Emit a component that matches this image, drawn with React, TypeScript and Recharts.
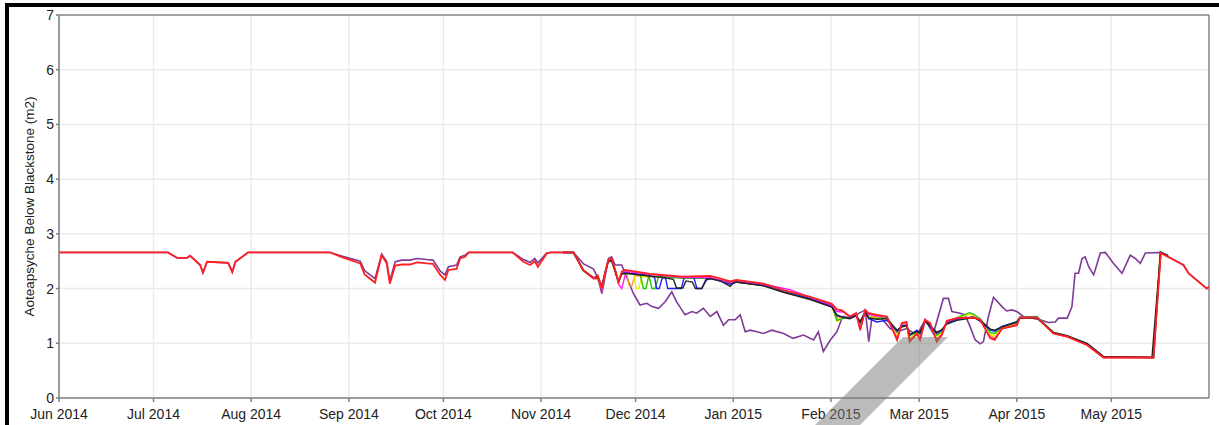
import React from 'react';
import { LineChart, Line, XAxis, YAxis, CartesianGrid, ReferenceLine } from 'recharts';

// x = days since 1 Jun 2014
const monthTicks = [0, 30, 61, 92, 122, 153, 183, 214, 245, 273, 304, 334];
const monthLabels = [
  'Jun 2014', 'Jul 2014', 'Aug 2014', 'Sep 2014', 'Oct 2014', 'Nov 2014',
  'Dec 2014', 'Jan 2015', 'Feb 2015', 'Mar 2015', 'Apr 2015', 'May 2015',
];
const yTicks = [0, 1, 2, 3, 4, 5, 6, 7];
const yMinorTicks = [0.5, 1.5, 2.5, 3.5, 4.5, 5.5, 6.5];

type Pt = [number, number];

const redSeries: Pt[] = [
  [0, 2.66], [34.6, 2.66], [37.5, 2.56], [40.6, 2.56], [41.6, 2.6], [44.8, 2.43], [45.7, 2.29], [47, 2.49],
  [53.7, 2.47], [55, 2.3], [56, 2.49], [60, 2.66], [86, 2.66], [90, 2.57], [95.6, 2.46], [97, 2.26],
  [100.3, 2.11], [102.4, 2.61], [104, 2.46], [105, 2.09], [106.7, 2.42], [108.8, 2.44], [111.4, 2.44],
  [113.6, 2.48], [116.7, 2.46], [118.7, 2.45], [121, 2.25], [122.5, 2.16], [123.6, 2.34], [126.2, 2.36],
  [127.3, 2.55], [128.9, 2.58], [130, 2.66], [144, 2.66], [147.4, 2.49], [149.5, 2.43], [151, 2.5],
  [152, 2.4], [154.8, 2.64], [156, 2.66], [163.3, 2.66], [166.4, 2.34], [169.6, 2.19], [171, 2.24],
  [172.3, 2.0], [173.3, 2.28], [174.3, 2.52], [175.4, 2.55], [176.5, 2.35], [177.6, 2.12], [178.6, 2.31],
  [179.7, 2.34], [187.6, 2.27], [198, 2.22], [206.7, 2.23], [210, 2.18], [213, 2.13], [215, 2.16],
  [223.6, 2.09], [230, 1.97], [238.4, 1.85], [245.3, 1.72], [246.9, 1.62], [248.5, 1.6], [251, 1.49],
  [253, 1.55], [254.3, 1.24], [255.9, 1.61], [257, 1.55], [259.6, 1.52], [262.8, 1.49], [266, 1.06],
  [267.5, 1.37], [269, 1.39], [270, 1.03], [272.3, 1.18], [273.3, 1.06], [274.9, 1.43], [276.5, 1.37],
  [278.6, 1.03], [280.2, 1.15], [281.8, 1.41], [285, 1.46], [290.3, 1.47], [292.4, 1.43], [295.6, 1.09],
  [297, 1.06], [299.3, 1.27], [304, 1.33], [305, 1.47], [310.4, 1.47], [315.6, 1.18], [320, 1.12],
  [326.3, 0.97], [331.5, 0.74], [347.4, 0.74], [349.7, 2.65], [356.9, 2.43], [358.5, 2.28], [364.3, 2.0],
  [365, 2.03],
];

const purpleSeries: Pt[] = [
  [0, 2.66], [34.6, 2.66], [37.5, 2.56], [40.6, 2.56], [41.6, 2.6], [44.8, 2.43], [45.7, 2.29], [47, 2.49],
  [53.7, 2.47], [55, 2.3], [56, 2.49], [60, 2.66], [86, 2.66], [90, 2.59], [95.6, 2.5], [97, 2.33],
  [100.3, 2.18], [102.4, 2.63], [104, 2.5], [105, 2.14], [106.7, 2.49], [108.8, 2.52], [111.4, 2.52],
  [113.6, 2.55], [116.7, 2.53], [118.7, 2.52], [121, 2.32], [122.5, 2.25], [123.6, 2.4], [126.2, 2.43],
  [127.3, 2.58], [128.9, 2.61], [130, 2.66], [144, 2.66], [147.4, 2.53], [149.5, 2.48], [151, 2.55],
  [152, 2.47], [154.8, 2.65], [156, 2.66], [163.3, 2.66], [166.5, 2.45], [169.6, 2.36], [171, 2.2],
  [172.3, 1.91], [174.4, 2.55], [175.4, 2.58], [176.5, 2.43], [178.6, 2.43], [182.3, 1.91], [184.4, 1.7],
  [186.6, 1.73], [188.2, 1.67], [190.3, 1.64], [192.4, 1.76], [194.5, 1.94], [196, 1.76], [198.7, 1.52],
  [200.9, 1.58], [202.4, 1.55], [204.5, 1.64], [206.7, 1.49], [208.8, 1.58], [210.9, 1.33], [212.5, 1.43],
  [214.6, 1.43], [216.2, 1.52], [217.8, 1.21], [219.4, 1.24], [221.5, 1.21], [223.6, 1.18], [226.2, 1.24],
  [230, 1.18], [233, 1.09], [236.3, 1.15], [239.5, 1.06], [241, 1.21], [242.6, 0.85], [244.8, 1.06],
  [246.9, 1.21], [248.5, 1.46], [251, 1.49], [253, 1.52], [255.9, 1.61], [257, 1.03], [258, 1.46],
  [260.6, 1.49], [263.8, 1.27], [266, 1.21], [269, 1.27], [272.3, 1.15], [274.9, 1.43], [277.5, 1.18],
  [280.7, 1.82], [282.3, 1.82], [283.4, 1.58], [286, 1.55], [287.6, 1.52], [289.2, 1.3], [290.8, 1.06],
  [292.4, 0.99], [293.4, 1.03], [295, 1.49], [296.6, 1.84], [299.3, 1.67], [300.8, 1.59], [302.4, 1.61],
  [304, 1.58], [306.1, 1.49], [311.4, 1.43], [314, 1.38], [316.2, 1.39], [317.2, 1.46], [320, 1.46],
  [321.5, 1.67], [322.5, 2.28], [323.6, 2.28], [324.7, 2.55], [325.7, 2.58], [326.8, 2.4], [328.4, 2.25],
  [330.5, 2.65], [332.1, 2.66], [334.7, 2.46], [337.4, 2.28], [340, 2.61], [341.6, 2.55], [343.2, 2.46],
  [344.8, 2.65], [349.5, 2.66], [356.9, 2.43], [358.5, 2.28], [364.3, 2.0], [365, 2.03],
];

const blackSeries: Pt[] = [
  [160, 2.66], [163.3, 2.66], [166.4, 2.33], [169.6, 2.2], [171, 2.2], [172.3, 2.05], [173.3, 2.28],
  [174.3, 2.5], [175.4, 2.52], [176.5, 2.32], [177.6, 2.12], [178.6, 2.27], [180, 2.28], [186, 2.24],
  [192, 2.2], [195, 2.17], [196, 2.01], [198, 2.01], [199, 2.14], [201, 2.12], [202, 2.0], [204, 2.0],
  [205.5, 2.16], [206.7, 2.18], [210, 2.14], [213, 2.04], [214, 2.1], [215, 2.12], [223.6, 2.05],
  [230, 1.93], [238.4, 1.8], [245.3, 1.66], [246.9, 1.52], [249, 1.47], [251, 1.45], [253, 1.5],
  [254.3, 1.4], [255.9, 1.57], [257, 1.46], [259.6, 1.44], [262.8, 1.45], [266, 1.24], [267.5, 1.3],
  [269, 1.32], [270, 1.16], [272.3, 1.22], [273.3, 1.2], [274.9, 1.4], [276.5, 1.32], [278.6, 1.2],
  [280.2, 1.25], [281.8, 1.35], [285, 1.42], [290.3, 1.47], [292.4, 1.42], [295.6, 1.26], [297, 1.24],
  [299.3, 1.3], [304, 1.38], [305, 1.46], [310.4, 1.46], [315.6, 1.2], [320, 1.14], [326.3, 1.0],
  [331.5, 0.76], [346.9, 0.74], [349.6, 2.66], [352, 2.6],
];

const blueSeries: Pt[] = [
  [160, 2.66], [163.3, 2.66], [166.4, 2.34], [169.6, 2.19], [171, 2.22], [172.3, 2.02], [173.3, 2.28],
  [174.3, 2.5], [175.4, 2.52], [176.5, 2.33], [177.6, 2.12], [178.6, 2.28], [180, 2.29], [186, 2.25],
  [189, 2.21], [189.7, 2.0], [190.5, 2.0], [191.5, 2.2], [192.5, 2.19], [193.2, 2.0], [197.5, 2.0],
  [198.5, 2.22], [201.5, 2.2], [202.5, 2.0], [204, 2.0], [205.5, 2.19], [206.7, 2.19], [213, 2.08],
  [215, 2.12], [223.6, 2.06], [230, 1.94], [238.4, 1.82], [245.3, 1.68], [246.9, 1.5], [249, 1.48],
  [251, 1.46], [253, 1.52], [254.3, 1.38], [255.9, 1.58], [257, 1.45], [259.6, 1.39], [262.8, 1.42],
  [266, 1.22], [267.5, 1.32], [269, 1.33], [270, 1.15], [272.3, 1.24], [273.3, 1.18], [274.9, 1.42],
  [276.5, 1.3], [278.6, 1.18], [280.2, 1.24], [281.8, 1.37], [285, 1.44], [290.3, 1.48], [292.4, 1.4],
  [295.6, 1.24], [297, 1.22], [299.3, 1.31], [304, 1.39], [305, 1.47], [310.4, 1.47], [315.6, 1.19],
  [320, 1.13], [326.3, 0.98], [331.5, 0.75], [347.2, 0.74], [349.7, 2.66], [352, 2.6],
];

const greenSeries: Pt[] = [
  [160, 2.66], [163.3, 2.66], [166.4, 2.33], [169.6, 2.2], [171, 2.2], [172.3, 2.06], [173.3, 2.29],
  [174.3, 2.5], [175.4, 2.5], [176.5, 2.32], [177.6, 2.14], [178.6, 2.27], [180, 2.28], [184.5, 2.25],
  [185.5, 2.0], [186.3, 2.0], [187.2, 2.24], [188.2, 2.0], [189.2, 2.0], [190.3, 2.22], [198, 2.19],
  [206.7, 2.19], [213, 2.1], [215, 2.12], [223.6, 2.06], [230, 1.95], [238.4, 1.83], [245.3, 1.69],
  [246.9, 1.42], [249, 1.46], [251, 1.47], [253, 1.53], [254.3, 1.36], [255.9, 1.6], [257, 1.47],
  [259.6, 1.45], [262.8, 1.47], [266, 1.2], [267.5, 1.31], [269, 1.33], [270, 1.14], [272.3, 1.2],
  [273.3, 1.16], [274.9, 1.43], [276.5, 1.33], [278.6, 1.15], [280.2, 1.22], [281.8, 1.38], [285, 1.47],
  [289, 1.56], [290.3, 1.53], [292.4, 1.45], [295.6, 1.2], [297, 1.18], [299.3, 1.3], [304, 1.4],
  [305, 1.48], [310.4, 1.49], [315.6, 1.2], [320, 1.13], [326.3, 0.98], [331.5, 0.75], [347.5, 0.74],
  [349.5, 2.68], [352, 2.6],
];

const yellowSeries: Pt[] = [
  [160, 2.66], [163.3, 2.66], [166.4, 2.33], [169.6, 2.2], [171, 2.18], [172.3, 2.04], [173.3, 2.28],
  [174.3, 2.5], [175.4, 2.5], [176.5, 2.32], [177.6, 2.13], [178.6, 2.27], [180, 2.3], [182.4, 2.27],
  [183.2, 2.0], [184, 2.0], [185, 2.22], [198, 2.2], [206.7, 2.2], [213, 2.1], [215, 2.13], [223.6, 2.06],
  [230, 1.94], [238.4, 1.82], [245.3, 1.67], [246.9, 1.4], [249, 1.47], [251, 1.46], [253, 1.52],
  [254.3, 1.35], [255.9, 1.6], [257, 1.47], [259.6, 1.46], [262.8, 1.46], [266, 1.15], [267.5, 1.3],
  [269, 1.32], [270, 1.1], [272.3, 1.18], [273.3, 1.12], [274.9, 1.42], [276.5, 1.33], [278.6, 1.12],
  [280.2, 1.2], [281.8, 1.38], [285, 1.46], [289, 1.53], [290.3, 1.5], [292.4, 1.42], [295.6, 1.16],
  [297, 1.14], [299.3, 1.28], [304, 1.38], [305, 1.47], [310.4, 1.48], [315.6, 1.19], [320, 1.13],
  [326.3, 0.98], [331.5, 0.75], [347.3, 0.74], [349.6, 2.66], [352, 2.6],
];

const orangeSeries: Pt[] = [
  [160, 2.66], [163.3, 2.66], [166.4, 2.33], [169.6, 2.18], [171, 2.16], [172.3, 2.0], [173.3, 2.27],
  [174.3, 2.48], [175.4, 2.5], [176.5, 2.3], [177.6, 2.1], [178.6, 2.26], [180.2, 2.27], [181, 2.05],
  [181.8, 2.05], [182.8, 2.24], [198, 2.2], [206.7, 2.19], [213, 2.09], [215, 2.12], [223.6, 2.05],
  [230, 1.93], [238.4, 1.81], [245.3, 1.66], [246.9, 1.45], [249, 1.5], [251, 1.47], [253, 1.52],
  [254.3, 1.3], [255.9, 1.58], [257, 1.5], [259.6, 1.48], [262.8, 1.46], [266, 1.1], [267.5, 1.33],
  [269, 1.34], [270, 1.07], [272.3, 1.17], [273.3, 1.1], [274.9, 1.42], [276.5, 1.35], [278.6, 1.08],
  [280.2, 1.18], [281.8, 1.39], [285, 1.45], [290.3, 1.48], [292.4, 1.42], [295.6, 1.14], [297, 1.1],
  [299.3, 1.27], [304, 1.36], [305, 1.47], [310.4, 1.47], [315.6, 1.19], [320, 1.12], [326.3, 0.97],
  [331.5, 0.74], [347.4, 0.74], [349.7, 2.65], [352, 2.6],
];

const magentaSeries: Pt[] = [
  [160, 2.66], [163.3, 2.66], [166.4, 2.34], [169.6, 2.18], [171, 2.2], [172.3, 1.98], [173.3, 2.26],
  [174.3, 2.5], [175.4, 2.52], [176.5, 2.33], [177.6, 2.08], [178.6, 2.0], [180, 2.31], [187.6, 2.26],
  [198, 2.2], [206.7, 2.2], [213, 2.11], [215, 2.14], [223.6, 2.08], [232, 1.98], [238.4, 1.84],
  [245.3, 1.7], [246.9, 1.58], [249, 1.57], [251, 1.49], [253, 1.54], [254.3, 1.26], [255.9, 1.6],
  [257, 1.53], [259.6, 1.5], [262.8, 1.48], [266, 1.08], [267.5, 1.36], [269, 1.38], [270, 1.05],
  [272.3, 1.17], [273.3, 1.08], [274.9, 1.43], [276.5, 1.36], [278.6, 1.05], [280.2, 1.16], [281.8, 1.4],
  [285, 1.46], [290.3, 1.47], [292.4, 1.43], [295.6, 1.1], [297, 1.08], [299.3, 1.27], [304, 1.33],
  [305, 1.47], [310.4, 1.47], [315.6, 1.18], [320, 1.12], [326.3, 0.97], [331.5, 0.74], [347.4, 0.74],
  [349.6, 2.65], [352, 2.6],
];

// drawing order: first is at the bottom, red on top
const series = [
  { name: 'purple', color: '#7f3a98', width: 1.6, pts: purpleSeries },
  { name: 'orange', color: '#ff9a2e', width: 1.4, pts: orangeSeries },
  { name: 'yellow', color: '#f2ec00', width: 1.4, pts: yellowSeries },
  { name: 'green', color: '#22c400', width: 1.4, pts: greenSeries },
  { name: 'blue', color: '#1f1fff', width: 1.4, pts: blueSeries },
  { name: 'magenta', color: '#ff1aff', width: 1.4, pts: magentaSeries },
  { name: 'black', color: '#222222', width: 1.4, pts: blackSeries },
  { name: 'red', color: '#ff2020', width: 1.8, pts: redSeries },
];

const font = '"Liberation Sans", Arial, sans-serif';

const App: React.FC = () => {
  return (
    <div style={{ position: 'fixed', left: 0, top: 0, width: 1219, height: 425, background: '#fff', overflow: 'hidden' }}>
      <div
        style={{
          position: 'absolute', left: 5, top: 3, right: 0, bottom: 0,
          borderTop: '4px solid #000', borderLeft: '4px solid #000',
        }}
      />
      <div style={{ position: 'absolute', left: 0, top: 0 }}>
        <LineChart width={1219} height={425} margin={{ top: 15, right: 10, bottom: 0, left: 0 }}>
          <CartesianGrid stroke="#ebebeb" strokeWidth={1.5} />
          <XAxis
            type="number"
            dataKey="d"
            domain={[0, 365]}
            ticks={monthTicks}
            tickFormatter={(v: number) => monthLabels[monthTicks.indexOf(v)] ?? ''}
            height={27}
            stroke="#808080"
            strokeWidth={1.5}
            tickSize={4}
            tickMargin={7}
            tick={{ fill: '#222', fontSize: 14, fontFamily: font }}
            allowDataOverflow
          />
          <YAxis
            yAxisId="minor"
            domain={[0, 7]}
            ticks={yMinorTicks}
            width={0}
            axisLine={false}
            tickSize={3}
            stroke="#808080"
            tick={() => <g />}
          />
          <YAxis
            domain={[0, 7]}
            ticks={yTicks}
            width={59}
            stroke="#808080"
            strokeWidth={1.5}
            tickSize={3}
            tick={{ fill: '#222', fontSize: 14, fontFamily: font }}
            label={{
              value: 'Aoteapsyche Below Blackstone (m2)',
              angle: -90,
              position: 'center',
              dx: 0,
              style: { fill: '#222', fontSize: 13.5, fontFamily: font, textAnchor: 'middle' },
            }}
          />
          <ReferenceLine y={7} stroke="#8a8a8a" strokeWidth={1.5} />
          <ReferenceLine x={365} stroke="#8a8a8a" strokeWidth={1.5} />
          {series.map((s) => (
            <Line
              key={s.name}
              data={s.pts.map(([d, v]) => ({ d, v }))}
              dataKey="v"
              type="linear"
              stroke={s.color}
              strokeWidth={s.width}
              dot={false}
              activeDot={false}
              isAnimationActive={false}
            />
          ))}
        </LineChart>
      </div>
      <svg width={1219} height={425} style={{ position: 'absolute', left: 0, top: 0, pointerEvents: 'none' }}>
        <polygon points="903,337 948,337 860,425 815,425" fill="#7a7a7a" fillOpacity={0.5} />
      </svg>
    </div>
  );
};

export default App;
